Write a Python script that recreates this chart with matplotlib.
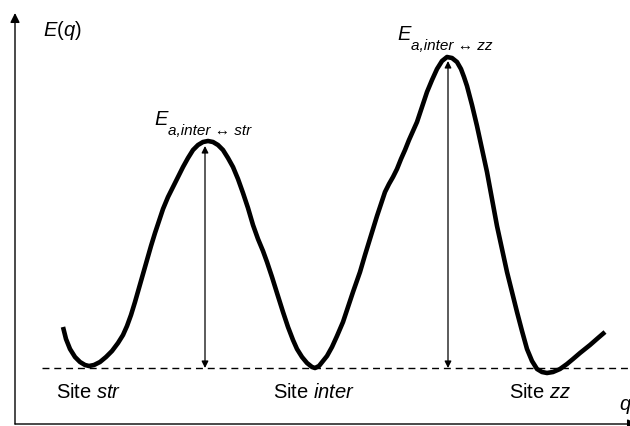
import matplotlib.pyplot as plt

plt.rcParams['font.family'] = ['Liberation Sans', 'DejaVu Sans']
plt.rcParams['mathtext.fontset'] = 'custom'
plt.rcParams['mathtext.rm'] = 'Liberation Sans'
plt.rcParams['mathtext.it'] = 'Liberation Sans:italic'

# energy profile along the reaction coordinate (baseline E = 0)
q_curve = [63, 66, 70, 75, 80, 85, 89, 94, 100, 106, 112, 118, 123, 127,
           131, 135, 139, 143, 147, 151, 155, 159, 163, 168, 173, 178, 183,
           188, 193, 198, 203, 208, 213, 218, 223, 228, 233, 238, 243, 248,
           253, 258, 263, 267, 272, 277, 283, 288, 293, 297, 302, 307, 312,
           315, 319, 323, 327, 332, 337, 343, 348, 353, 360, 365, 369, 373,
           377, 381, 385, 389, 393, 397, 401, 405, 409, 413, 417, 422, 427,
           432, 437, 442, 447, 452, 457, 461, 464, 467, 472, 477, 482, 487,
           492, 497, 502, 507, 512, 517, 522, 527, 532, 537, 542, 547, 553,
           560, 567, 573, 580, 590, 598, 605]
E_curve = [41, 29, 19, 11, 6, 3, 2, 3, 6, 11, 17, 25, 33, 42,
           53, 66, 80, 94, 108, 122, 135, 147, 159, 171, 181, 191, 201,
           210, 218, 223, 226, 227, 226, 223, 218, 210, 201, 189, 175, 160,
           143, 129, 117, 106, 91, 75, 56, 41, 28, 19, 11, 5, 1,
           0, 2, 7, 12, 21, 32, 46, 61, 76, 96, 113, 126, 139,
           152, 164, 176, 184, 191, 199, 209, 218, 228, 237, 246, 261, 276,
           288, 299, 307, 311, 310, 306, 299, 291, 282, 263, 242, 219, 196,
           169, 142, 119, 96, 76, 56, 37, 19, 7, -1, -4, -5, -4,
           -1, 4, 9, 15, 23, 30, 36]

# barriers: position, height and label subscripts
barrier_q = [205, 448]
barrier_E = [222, 307]
barrier_subs = ['a,inter \u2194 str', 'a,inter \u2194 zz']

site_q = [89, 314, 540]
site_names = ['str', 'inter', 'zz']

fig = plt.figure(figsize=(6.3, 4.27), dpi=100)
ax = fig.add_axes([0, 0, 1, 1])
ax.set_xlim(0, 630)
ax.set_ylim(-58, 369)
ax.axis('off')

# axes with arrows
ax.annotate('', xy=(15, 355), xytext=(15, -56), annotation_clip=False,
            arrowprops=dict(arrowstyle='-|>', lw=1, color='black',
                            mutation_scale=14, shrinkA=0, shrinkB=0))
ax.annotate('', xy=(637, -56), xytext=(15, -56), annotation_clip=False,
            arrowprops=dict(arrowstyle='-|>', lw=1, color='black',
                            mutation_scale=14, shrinkA=0, shrinkB=0))
ax.text(43, 339, '$E$($q$)', fontsize=14.5, ha='left', va='center')
ax.text(619, -36, 'q', fontsize=14.5, style='italic', ha='left',
        va='center')

# baseline
ax.plot([42, 630], [0, 0], color='black', lw=1, ls=(0, (5, 3.5)))

ax.plot(q_curve, E_curve, color='black', lw=3.3,
        solid_joinstyle='round', solid_capstyle='butt')

for qb, Eb, sub in zip(barrier_q, barrier_E, barrier_subs):
    ax.annotate('', xy=(qb, Eb), xytext=(qb, 0),
                arrowprops=dict(arrowstyle='<|-|>', lw=0.9, color='black',
                                mutation_scale=10, shrinkA=0, shrinkB=0))
    e = ax.text(qb - 51, Eb + 22, 'E', fontsize=14.5, style='italic',
                ha='left', va='baseline')
    ax.annotate(sub, xy=(1.0, 0.0), xycoords=e, xytext=(0.5, -4.5),
                textcoords='offset points', fontsize=11, style='italic',
                ha='left', va='baseline')

for qs, name in zip(site_q, site_names):
    ax.text(qs, -24, 'Site $%s$' % name, fontsize=14.5, ha='center',
            va='center')

fig.savefig('out.png', dpi=100)
